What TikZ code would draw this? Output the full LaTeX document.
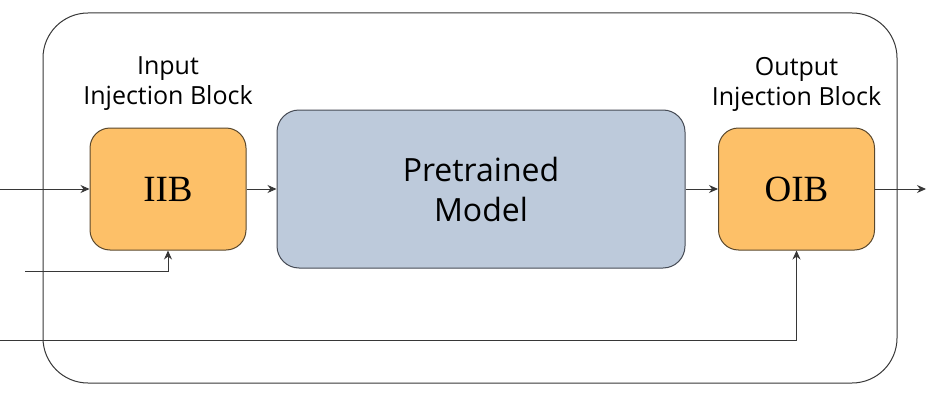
\documentclass[tikz,border=0pt]{standalone}
\usepackage{fontspec}
\setmainfont{Open Sans}
\newfontfamily\blockfont{Liberation Serif}
\usepackage{xcolor}
\usepackage{tikz}
\usetikzlibrary{positioning,arrows.meta}
\definecolor{injfill}{RGB}{253,192,104}
\definecolor{injdraw}{RGB}{90,72,45}
\definecolor{ptfill}{RGB}{189,202,219}
\definecolor{ptdraw}{RGB}{70,75,85}
\definecolor{wire}{RGB}{55,55,55}
\tikzset{
  % --- blocks ----------------------------------------------------------------
  inj/.style={rectangle,rounded corners=20pt,draw=injdraw,fill=injfill,
              line width=1pt,minimum width=156pt,minimum height=122pt,
              font=\blockfont\fontsize{37}{37}\selectfont},
  ptm/.style={rectangle,rounded corners=22pt,draw=ptdraw,fill=ptfill,
              line width=1pt,minimum width=408pt,minimum height=158pt,
              align=center,font=\fontsize{32}{40}\selectfont},
  frame/.style={rectangle,rounded corners=45pt,draw=wire,line width=1pt,
                minimum width=854pt,minimum height=370pt},
  % --- labels and wires ------------------------------------------------------
  blab/.style={align=center,font=\fontsize{25}{30}\selectfont},
  flow/.style={-{Stealth[length=9pt,width=8pt]},wire,line width=0.9pt},
}
\begin{document}
\begin{tikzpicture}[x=1pt, y=-1pt]
  \useasboundingbox (0,0) rectangle (931,396);
  \node[frame] (box) at (470,198) {};

  \node[inj] (iib) at (168,189) {IIB};
  \node[ptm] (pm)  at (481,189) {Pretrained\\Model};
  \node[inj] (oib) at (796.5,189) {OIB};

  \node[blab] (liib) at (168,84) {Input\\Injection Block};
  \node[blab] (loib) at (796.5,84) {Output\\Injection Block};

  \coordinate (in1) at (0,189);
  \coordinate (in2) at (25,271);
  \coordinate (in3) at (0,340);
  \coordinate (out) at (926,189);

  \draw[flow] (in1) -- (iib);
  \draw[flow] (iib) -- (pm);
  \draw[flow] (pm) -- (oib);
  \draw[flow] (oib) -- (out);
  \draw[flow] (in2) -| (iib.south);
  \draw[flow] (in3) -| (oib.south);
\end{tikzpicture}
\end{document}
